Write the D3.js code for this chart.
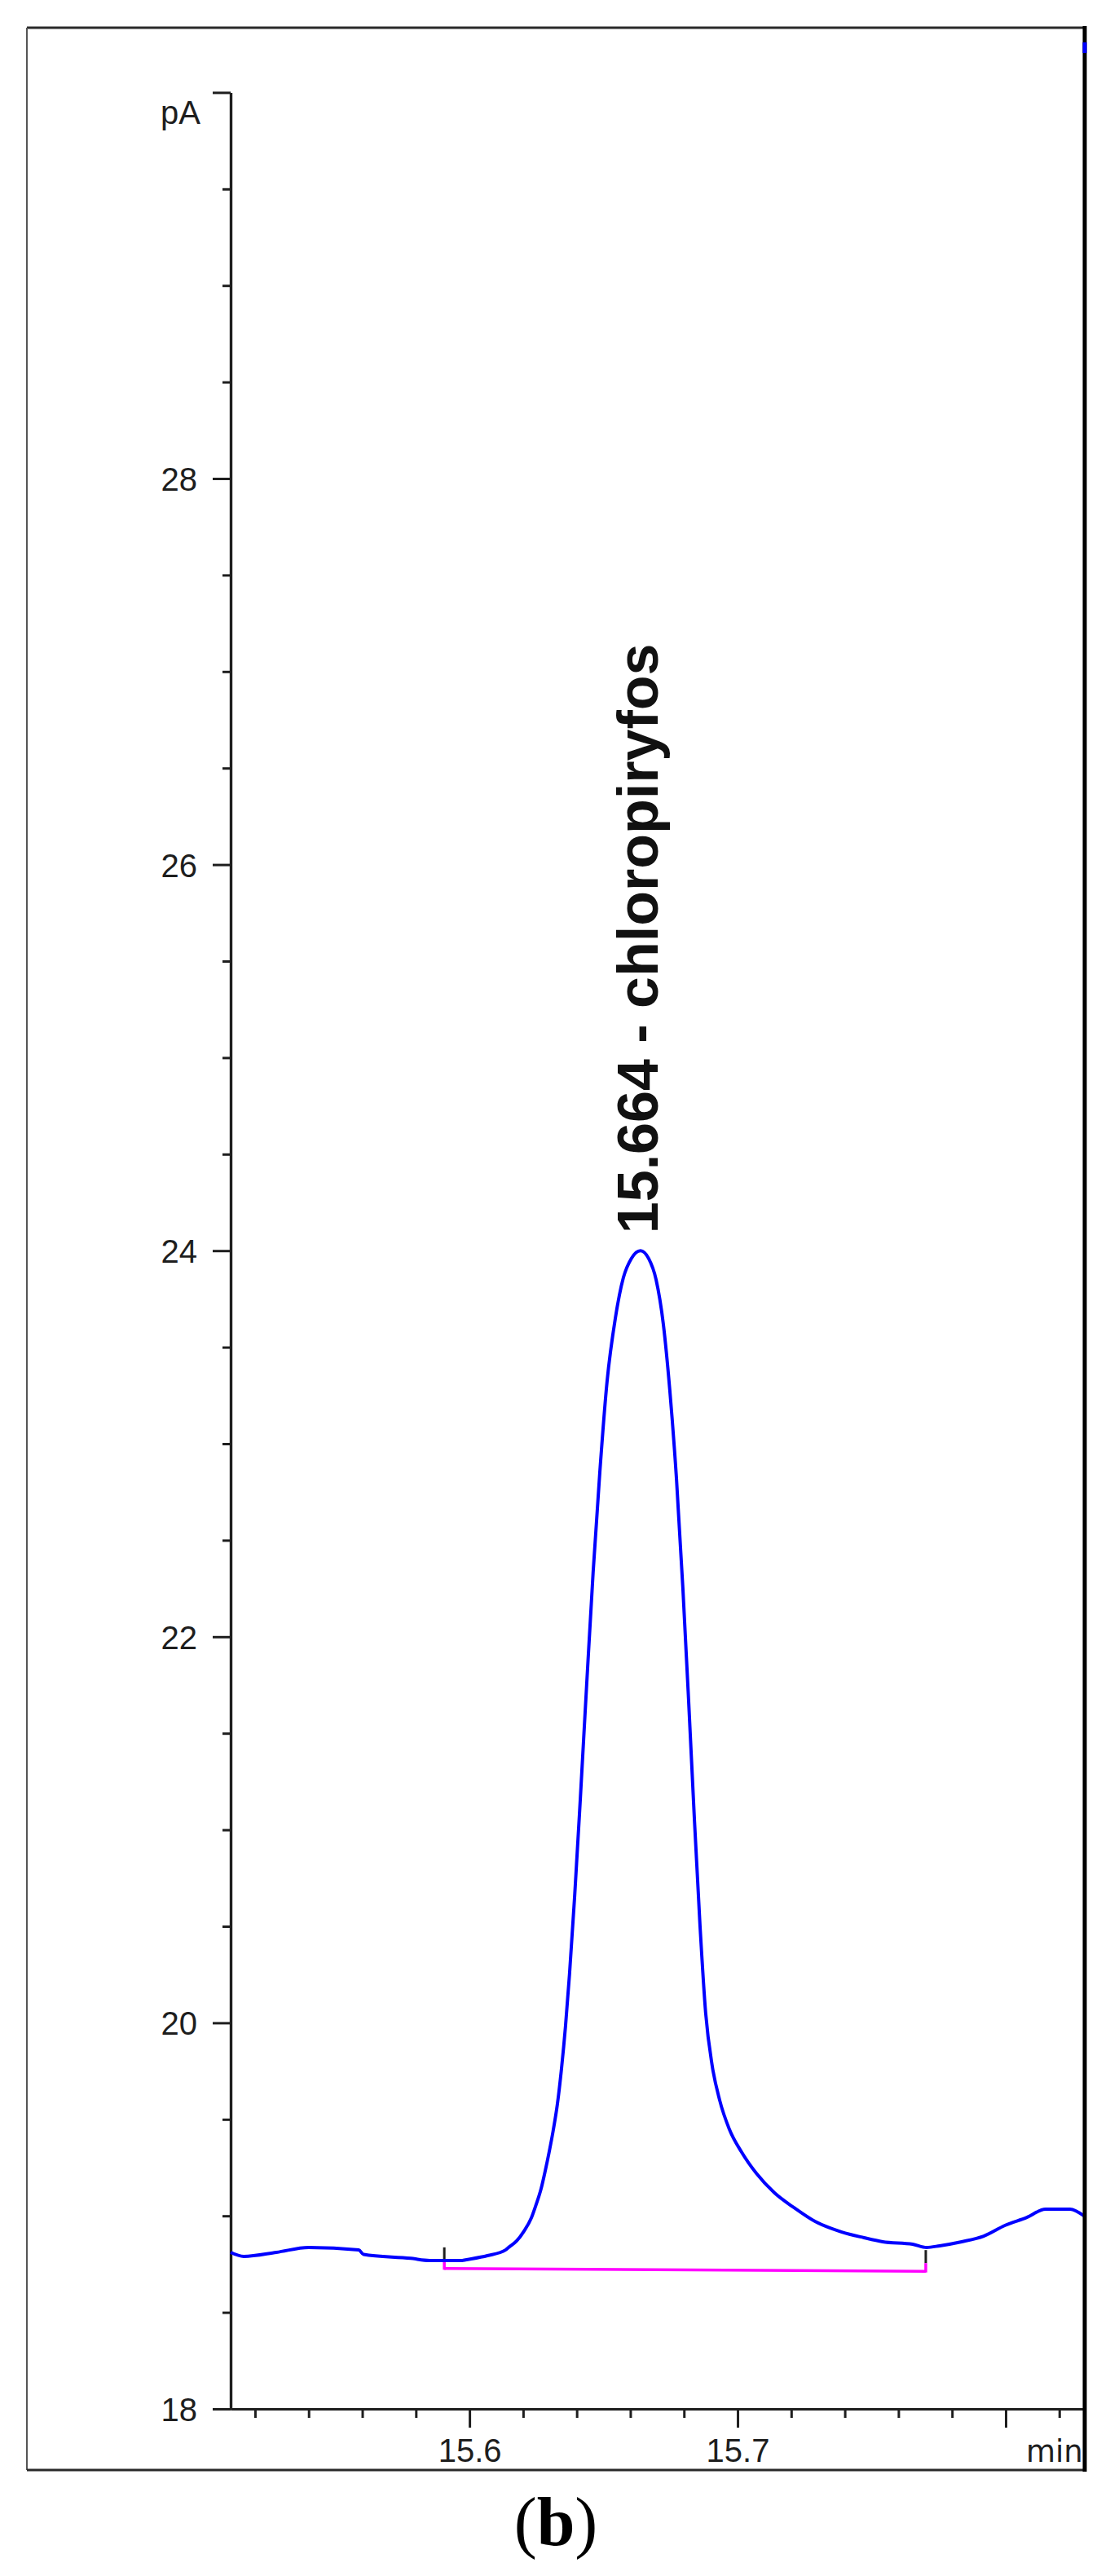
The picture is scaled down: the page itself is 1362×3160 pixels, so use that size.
<!DOCTYPE html>
<html><head><meta charset="utf-8">
<script src="https://cdn.jsdelivr.net/npm/d3@7"></script>
<style>body{margin:0;background:#fff}svg{display:block}</style>
</head><body>
<svg id="chart" width="1362" height="3160"></svg>
<script>
// ---- data ----
const times = [15.5109, 15.5158, 15.5280, 15.5400, 15.5587, 15.5605, 15.5781, 15.5851, 15.5973, 15.5985,
  15.6067, 15.6134, 15.6149, 15.6176, 15.6203, 15.6231, 15.6249, 15.6267, 15.6282, 15.6297, 15.6312,
  15.6328, 15.6343, 15.6358, 15.6373, 15.6392, 15.6413, 15.6437, 15.6461, 15.6486, 15.6513, 15.6544,
  15.6574, 15.6604, 15.6638, 15.6668, 15.6696, 15.6723, 15.6747, 15.6772, 15.6796, 15.6817, 15.6838,
  15.6860, 15.6881, 15.6905, 15.6933, 15.6969, 15.7015, 15.7070, 15.7137, 15.7213, 15.7289,
  15.7389, 15.7471, 15.7541, 15.7653, 15.7705, 15.7754, 15.7836, 15.7918, 15.7997, 15.8079, 15.8149,
  15.8240, 15.8292];
const signal = [18.811, 18.790, 18.811, 18.836, 18.823, 18.800, 18.780, 18.769, 18.769, 18.772,
  18.794, 18.823, 18.840, 18.870, 18.920, 18.990, 19.060, 19.140, 19.230, 19.330, 19.440,
  19.580, 19.760, 19.980, 20.250, 20.650, 21.150, 21.750, 22.330, 22.850, 23.320, 23.650,
  23.860, 23.960, 24.000, 23.960, 23.850, 23.620, 23.280, 22.820, 22.250, 21.680, 21.080,
  20.500, 20.050, 19.780, 19.600, 19.450, 19.330, 19.220, 19.120, 19.040, 18.971,
  18.916, 18.887, 18.866, 18.853, 18.836, 18.845, 18.866, 18.895, 18.950, 18.992, 19.035,
  19.035, 19.000];
const baselineTimes = [15.5906, 15.7702];
const baselineValues = [18.727, 18.713];
const yMajorTicks = [18, 20, 22, 24, 26, 28, 30];
const yTickLabels = ["18", "20", "22", "24", "26", "28", ""];
const yMinorTicks = [18.5, 19, 19.5, 20.5, 21, 21.5, 22.5, 23, 23.5, 24.5, 25, 25.5, 26.5, 27, 27.5, 28.5, 29, 29.5];
const xMajorTicks = [15.6, 15.7, 15.8];
const xTickLabels = ["15.6", "15.7", ""];
const xMinorTicks = [15.52, 15.54, 15.56, 15.58, 15.62, 15.64, 15.66, 15.68, 15.72, 15.74, 15.76, 15.78, 15.82];
const peakTime = 15.664, peakValue = 24.0;
const peakLabel = "15.664 - chloropiryfos";
const yUnit = "pA", xUnit = "min", panelLabel = "(b)";

// ---- drawing ----
const svg = d3.select("#chart");
const x = d3.scaleLinear().domain([15.5109, 15.8298]).range([283, 1332]);
const y = d3.scaleLinear().domain([18, 30]).range([2955, 113.4]);
const ink = "#1e1e1e";
const font = "'Liberation Sans', Arial, sans-serif";

// outer frame (top, left, bottom)
svg.append("line").attr("x1", 33).attr("y1", 34).attr("x2", 1332).attr("y2", 34).attr("stroke", "#2a2a2a").attr("stroke-width", 3);
svg.append("line").attr("x1", 33).attr("y1", 34).attr("x2", 33).attr("y2", 3030).attr("stroke", "#555").attr("stroke-width", 2);
svg.append("line").attr("x1", 33).attr("y1", 3030).attr("x2", 1332).attr("y2", 3030).attr("stroke", "#2a2a2a").attr("stroke-width", 3);

// y axis
const yMinorAxis = d3.axisLeft(y).tickValues(yMinorTicks).tickSize(10).tickSizeOuter(0).tickFormat("");
const yMajorAxis = d3.axisLeft(y).tickValues(yMajorTicks).tickSize(22).tickSizeOuter(0).tickPadding(19)
  .tickFormat((d, i) => yTickLabels[i]);
const gy1 = svg.append("g").attr("transform", "translate(283,0)").call(yMinorAxis);
const gy2 = svg.append("g").attr("transform", "translate(283,0)").call(yMajorAxis);

// x axis
const xMinorAxis = d3.axisBottom(x).tickValues(xMinorTicks).tickSize(11).tickSizeOuter(0).tickFormat("");
const xMajorAxis = d3.axisBottom(x).tickValues(xMajorTicks).tickSize(23).tickSizeOuter(0).tickPadding(14)
  .tickFormat((d, i) => xTickLabels[i]);
const gx1 = svg.append("g").attr("transform", "translate(0,2955)").call(xMinorAxis);
const gx2 = svg.append("g").attr("transform", "translate(0,2955)").call(xMajorAxis);

[gy1, gy2, gx1, gx2].forEach(g => {
  g.selectAll("path.domain").attr("stroke", ink).attr("stroke-width", 3.2);
  g.selectAll(".tick line").attr("stroke", ink).attr("stroke-width", 3);
  g.selectAll(".tick text").attr("fill", ink).style("font-family", font).style("font-size", "40px");
});
gy2.selectAll(".tick text").attr("dy", "0.36em");

// units
svg.append("text").attr("x", 246).attr("y", 152).attr("text-anchor", "end")
  .style("font-family", font).style("font-size", "40px").attr("fill", ink).text(yUnit);
svg.append("text").attr("x", 1259).attr("y", 3020)
  .style("font-family", "'DejaVu Sans', Verdana, sans-serif").style("font-size", "37px").attr("fill", ink).text(xUnit);

// baseline (magenta) with end markers
svg.append("line")
  .attr("x1", x(baselineTimes[0])).attr("y1", y(baselineValues[0]))
  .attr("x2", x(baselineTimes[1])).attr("y2", y(baselineValues[1]))
  .attr("stroke", "#ff00ff").attr("stroke-width", 3.5);
baselineTimes.forEach((t, i) => {
  svg.append("line").attr("x1", x(t)).attr("x2", x(t))
    .attr("y1", y(baselineValues[i]) - 26).attr("y2", y(baselineValues[i]) - 10)
    .attr("stroke", ink).attr("stroke-width", 3);
  svg.append("line").attr("x1", x(t)).attr("x2", x(t))
    .attr("y1", y(baselineValues[i]) - 10).attr("y2", y(baselineValues[i]) + 1.5)
    .attr("stroke", "#ff00ff").attr("stroke-width", 3.5);
});

// signal trace
const line = d3.line().x((d, i) => x(times[i])).y(d => y(d)).curve(d3.curveMonotoneX);
svg.append("path").datum(signal).attr("d", line)
  .attr("fill", "none").attr("stroke", "#0000ff").attr("stroke-width", 4).attr("stroke-linejoin", "round");

// peak label
svg.append("text")
  .attr("transform", `translate(${x(peakTime) + 20},${y(peakValue) - 21}) rotate(-90)`)
  .style("font-family", font).style("font-size", "70px").style("font-weight", "bold")
  .attr("fill", "#111").text(peakLabel);

// right frame border (drawn last, clipping the unit label)
svg.append("line").attr("x1", 1331).attr("y1", 32).attr("x2", 1331).attr("y2", 3032).attr("stroke", "#000").attr("stroke-width", 5);
svg.append("line").attr("x1", 1331).attr("y1", 52).attr("x2", 1331).attr("y2", 65).attr("stroke", "#0000ff").attr("stroke-width", 5);

// panel label
const pl = svg.append("text").attr("x", 682).attr("y", 3122).attr("text-anchor", "middle")
  .style("font-family", "'Liberation Serif', 'Times New Roman', serif").style("font-size", "84px").attr("fill", "#000");
pl.append("tspan").text("(");
pl.append("tspan").style("font-weight", "bold").text("b");
pl.append("tspan").text(")");
</script>
</body></html>
